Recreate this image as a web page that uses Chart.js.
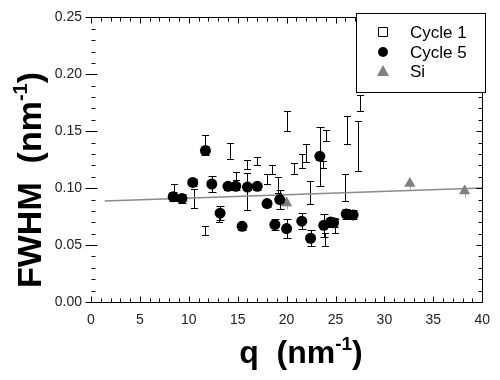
<!DOCTYPE html>
<html>
<head>
<meta charset="utf-8">
<script src="https://cdn.jsdelivr.net/npm/chart.js@4.4.0/dist/chart.umd.min.js"></script>
<style>
  body { margin: 0; background: #fff; }
</style>
</head>
<body>
<canvas id="grafica" width="500" height="380"></canvas>
<script>
// Cycle 1 (open squares) - q, FWHM, half error
const cycle1Q   = [8.5, 10.5, 11.7, 11.7, 13.1, 14.2, 14.8, 15.9, 16.0, 17.0, 18.0, 18.5, 19.1, 20.0, 20.8, 21.6, 22.0, 22.4, 24.0, 23.7, 24.9, 23.9, 26.2, 27.3, 26.0, 27.5];
const cycle1W   = [0.097, 0.091, 0.140, 0.063, 0.0745, 0.133, 0.111, 0.1205, 0.097, 0.1235, 0.108, 0.116, 0.103, 0.159, 0.117, 0.124, 0.131, 0.096, 0.146, 0.121, 0.067, 0.055, 0.151, 0.137, 0.1005, 0.175];
const cycle1Err = [0.007, 0.008, 0.007, 0.004, 0.0045, 0.007, 0.0035, 0.004, 0.016, 0.0035, 0.004, 0.004, 0.007, 0.009, 0.005, 0.006, 0.008, 0.010, 0.005, 0.003, 0.006, 0.006, 0.012, 0.022, 0.0115, 0.007];

// Cycle 5 (filled circles)
const cycle5Q   = [8.4, 9.3, 10.4, 11.7, 12.35, 13.2, 14.0, 14.8, 15.45, 16.0, 17.0, 18.0, 18.8, 19.3, 20.0, 21.55, 22.45, 23.4, 23.8, 24.5, 24.8, 26.1, 26.8];
const cycle5W   = [0.0925, 0.091, 0.105, 0.133, 0.1036, 0.078, 0.1016, 0.1016, 0.0665, 0.101, 0.1016, 0.0865, 0.068, 0.090, 0.0645, 0.071, 0.056, 0.128, 0.0674, 0.0702, 0.0696, 0.0773, 0.0765];
const cycle5Err = [0.004, 0.004, 0.003, 0.004, 0.007, 0.006, 0.003, 0.003, 0.003, 0.003, 0.003, 0.003, 0.005, 0.008, 0.008, 0.007, 0.007, 0.026, 0.010, 0.004, 0.004, 0.004, 0.004];

// Si reference (grey triangles)
const siQ   = [20.0, 32.6, 38.2];
const siW   = [0.087, 0.104, 0.0975];
const siErr = [0.005, 0.005, 0.005];

// fitted line
const fitQ = [1.4, 40];
const fitW = [0.0888, 0.1002];

const FONT = '"Liberation Sans", Arial, sans-serif';

function puntos(qs, ws) {
    return qs.map((q, i) => ({ x: q, y: ws[i] }));
}

// error bars with caps
const errorBars = {
    id: 'errorBars',
    beforeDatasetsDraw(chart) {
        const ctx = chart.ctx;
        const xs = chart.scales.x, ys = chart.scales.y;
        chart.data.datasets.forEach(ds => {
            if (!ds.errores) return;
            ctx.save();
            ctx.strokeStyle = ds.colorError;
            ctx.lineWidth = 1;
            ds.data.forEach((p, i) => {
                const e = ds.errores[i];
                const px = Math.round(xs.getPixelForValue(p.x)) + 0.5;
                const top = Math.round(ys.getPixelForValue(p.y + e)) + 0.5;
                const bot = Math.round(ys.getPixelForValue(p.y - e)) + 0.5;
                const c = ds.capAncho;
                ctx.beginPath();
                ctx.moveTo(px, top); ctx.lineTo(px, bot);
                ctx.moveTo(px - c, top); ctx.lineTo(px + c, top);
                ctx.moveTo(px - c, bot); ctx.lineTo(px + c, bot);
                ctx.stroke();
            });
            ctx.restore();
        });
    }
};

function dibujarTitulo(ctx, partes, size) {
    const fBig = `bold ${size}px ${FONT}`;
    const fSup = `bold ${Math.round(size * 0.58)}px ${FONT}`;
    let total = 0;
    partes.forEach(p => { ctx.font = p.sup ? fSup : fBig; total += ctx.measureText(p.t).width; });
    let x = -total / 2;
    partes.forEach(p => {
        ctx.font = p.sup ? fSup : fBig;
        ctx.fillText(p.t, x, p.sup ? -size * 0.42 : 0);
        x += ctx.measureText(p.t).width;
    });
}

// frame, ticks, titles, legend
const marco = {
    id: 'marco',
    afterDraw(chart) {
        const ctx = chart.ctx;
        const a = chart.chartArea;
        const xs = chart.scales.x, ys = chart.scales.y;
        const L = Math.round(a.left) + 0.5, R = Math.round(a.right) + 0.5;
        const T = Math.round(a.top) + 0.5, B = Math.round(a.bottom) + 0.5;
        ctx.save();
        ctx.strokeStyle = '#000';
        ctx.lineWidth = 1;
        ctx.beginPath();
        ctx.moveTo(L, T); ctx.lineTo(R, T); ctx.lineTo(R, B); ctx.lineTo(L, B);
        for (let q = 0; q <= 40; q++) {
            const px = Math.round(xs.getPixelForValue(q)) + 0.5;
            const len = q % 5 === 0 ? 6 : 4;
            ctx.moveTo(px, B); ctx.lineTo(px, B - len);
            ctx.moveTo(px, T); ctx.lineTo(px, T + len);
        }
        for (let k = 0; k <= 25; k++) {
            const py = Math.round(ys.getPixelForValue(k / 100)) + 0.5;
            const major = k % 5 === 0;
            ctx.moveTo(R, py); ctx.lineTo(R - (major ? 6 : 4), py);
            if (major) { ctx.moveTo(L - 6, py); ctx.lineTo(L + 6, py); }
            else { ctx.moveTo(L, py); ctx.lineTo(L + 4, py); }
        }
        ctx.stroke();

        // axis titles
        ctx.fillStyle = '#000';
        ctx.textBaseline = 'alphabetic';
        ctx.textAlign = 'left';
        ctx.save();
        ctx.translate(301, 363);
        dibujarTitulo(ctx, [{ t: 'q  (nm' }, { t: '-1', sup: true }, { t: ')' }], 32);
        ctx.restore();
        ctx.save();
        ctx.translate(41, 180);
        ctx.rotate(-Math.PI / 2);
        dibujarTitulo(ctx, [{ t: 'FWHM  (nm' }, { t: '-1', sup: true }, { t: ')' }], 34);
        ctx.restore();

        // legend
        ctx.fillStyle = '#fff';
        ctx.fillRect(356, 13, 129, 79);
        ctx.strokeRect(356.5, 13.5, 129, 79);
        const mx = 383, filas = [32, 52, 71];
        ctx.beginPath();
        ctx.rect(mx - 4.5, filas[0] - 4.5, 9, 9);
        ctx.stroke();
        ctx.beginPath();
        ctx.arc(mx, filas[1], 5, 0, Math.PI * 2);
        ctx.fillStyle = '#000';
        ctx.fill();
        ctx.beginPath();
        ctx.moveTo(mx, filas[2] - 6); ctx.lineTo(mx + 6, filas[2] + 5); ctx.lineTo(mx - 6, filas[2] + 5);
        ctx.closePath();
        ctx.fillStyle = '#808080';
        ctx.fill();
        ctx.fillStyle = '#000';
        ctx.font = `17px ${FONT}`;
        ctx.textBaseline = 'middle';
        chart.data.datasets.filter(d => d.enLeyenda).forEach((d, i) => {
            ctx.fillText(d.label, 410, filas[i] + 1);
        });
        ctx.restore();
    }
};

const ctx = document.getElementById('grafica').getContext('2d');
const chart = new Chart(ctx, {
    type: 'scatter',
    data: {
        datasets: [
            {
                label: 'Cycle 1',
                data: puntos(cycle1Q, cycle1W),
                errores: cycle1Err,
                colorError: '#000',
                capAncho: 3.5,
                enLeyenda: true,
                pointStyle: 'rect',
                pointRadius: 0,
                borderColor: '#000',
                backgroundColor: '#fff'
            },
            {
                label: 'Cycle 5',
                data: puntos(cycle5Q, cycle5W),
                errores: cycle5Err,
                colorError: '#000',
                capAncho: 4,
                enLeyenda: true,
                pointStyle: 'circle',
                pointRadius: 5.5,
                borderWidth: 0,
                backgroundColor: '#000'
            },
            {
                label: 'Si',
                data: puntos(siQ, siW),
                errores: siErr,
                colorError: '#b0b0b0',
                capAncho: 0,
                enLeyenda: true,
                pointStyle: 'triangle',
                pointRadius: 6.5,
                borderWidth: 0,
                backgroundColor: '#808080'
            },
            {
                label: 'fit',
                type: 'line',
                data: puntos(fitQ, fitW),
                borderColor: '#8a8a8a',
                borderWidth: 1.5,
                pointRadius: 0,
                fill: false
            }
        ]
    },
    options: {
        responsive: false,
        animation: false,
        devicePixelRatio: 1,
        layout: { padding: { top: 11, right: 15, left: 0, bottom: 0 } },
        plugins: {
            legend: { display: false },
            tooltip: { enabled: false }
        },
        scales: {
            x: {
                type: 'linear',
                min: 0,
                max: 40,
                grid: { display: false, drawTicks: false },
                border: { display: false },
                ticks: { stepSize: 5, padding: 10, color: '#222', maxRotation: 0, font: { family: FONT, size: 14 } },
                afterFit(s) { s.height = 78; }
            },
            y: {
                min: 0,
                max: 0.25,
                grid: { display: false, drawTicks: false },
                border: { display: false },
                ticks: { stepSize: 0.05, padding: 9, color: '#222', font: { family: FONT, size: 14 },
                    callback: v => v.toFixed(2) },
                afterFit(s) { s.width = 91; }
            }
        }
    },
    plugins: [errorBars, marco]
});
</script>
</body>
</html>
